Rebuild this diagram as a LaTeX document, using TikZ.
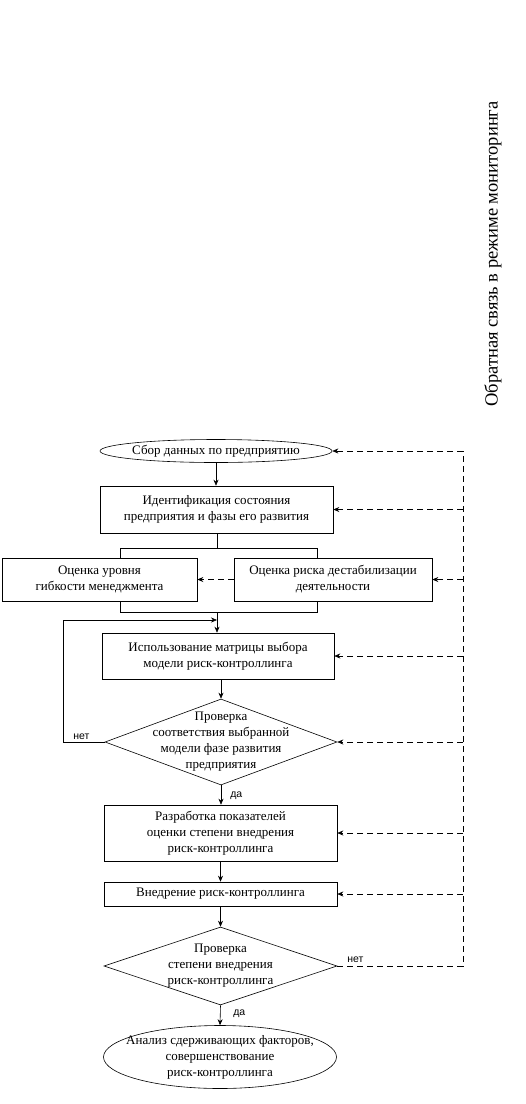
\documentclass[tikz,border=0pt]{standalone}
\usepackage{fontspec}
\setmainfont{Liberation Serif}
\newfontfamily\lblfont{Liberation Sans}
\usetikzlibrary{shapes.geometric,arrows.meta}
\begin{document}
\begin{tikzpicture}[x=1pt,y=-1pt,
  every node/.style={font=\fontsize{13}{16}\selectfont},
  blk/.style={draw,rectangle,inner sep=0pt,align=center},
  ell/.style={draw,ellipse,inner sep=0pt,align=center},
  dia/.style={draw,diamond,inner sep=0pt},
  lbl/.style={font=\lblfont\fontsize{10.5}{12}\selectfont,inner sep=0pt},
  arr/.style={-{Stealth[length=6pt,width=5pt]}},
  fb/.style={dashed,dash pattern=on 6pt off 4pt,-{Stealth[length=6pt,width=5pt]}},
  line width=0.6pt]
\useasboundingbox (0,0) rectangle (526,1104);

\node[ell,minimum width=232,minimum height=23] (e1) at (216,451) {};
\node at (e1.center) {Сбор данных по предприятию};
\node[blk,minimum width=233,minimum height=47] (b2) at (216.5,509.5) {Идентификация состояния\\предприятия и фазы его развития};
\node[blk,minimum width=195,minimum height=43] (b3l) at (99.5,579.5) {Оценка уровня\\гибкости менеджмента};
\node[blk,minimum width=198,minimum height=43] (b3r) at (333,579.5) {Оценка риска дестабилизации\\деятельности};
\node[blk,minimum width=232,minimum height=46] (b4) at (218,656) {Использование матрицы выбора\\модели риск-контроллинга};
\node[dia,minimum width=232,minimum height=86] (d1) at (221,742) {};
\node[align=center] at (d1.center) {Проверка\\соответствия выбранной\\модели фазе развития\\предприятия};
\node[blk,minimum width=233,minimum height=56] (b5) at (220.5,833) {Разработка показателей\\оценки степени внедрения\\риск-контроллинга};
\node[blk,minimum width=233,minimum height=24] (b6) at (220.5,894) {Внедрение риск-контроллинга};
\node[dia,minimum width=233,minimum height=78] (d2) at (220.5,966) {};
\node[align=center] at (d2.center) {Проверка\\степени внедрения\\риск-контроллинга};
\node[ell,minimum width=233,minimum height=63] (e2) at (220,1057) {};
\node[align=center] at (e2.center) {Анализ сдерживающих факторов,\\совершенствование\\риск-контроллинга};

\node[rotate=90,font=\fontsize{18.5}{22}\selectfont] (fbt) at (493,254) {Обратная связь в режиме мониторинга};

% main flow
\draw[arr] (e1.south) -- (e1.south |- b2.north);
\coordinate (s1) at (217,548);
\draw (b2.south -| s1) -- (s1);
\draw (120,548) -- (317,548);
\draw (120,548) -- (120,558);
\draw (317,548) -- (317,558);
\draw[fb] (b3r.west) -- (b3l.east);
\draw (120,601) -- (120,612) -- (317,612) -- (317,601);
\coordinate (s2) at (217,612);
\draw[arr] (s2) -- (s2 |- b4.north);
\draw[arr] (b4.south -| d1.north) -- (d1.north);
% no loop
\coordinate (n1) at (63,742);
\coordinate (n2) at (63,620);
\coordinate (n3) at (217,620);
\draw[arr] (d1.west) -- (n1) -- (n2) -- (n3);
\node[lbl,anchor=south west] at (73,740) {нет};
% yes
\draw[arr] (d1.south) -- (d1.south |- b5.north);
\node[lbl,anchor=south west] at (230,800) {да};
\draw[arr] (b5.south) -- (b6.north);
\draw[arr] (b6.south) -- (d2.north);
\draw[arr] (d2.south) -- (e2.north);
\node[lbl,anchor=south west] at (233,1018) {да};
% feedback
\coordinate (r0) at (463,966);
\coordinate (rt) at (463,451);
\draw[dashed,dash pattern=on 6pt off 4pt] (d2.east) -- (r0) -- (rt);
\node[lbl,anchor=south west] at (347,963) {нет};
\draw[fb] (rt) -- (e1.east);
\draw[fb] (rt |- b2.east) -- (b2.east);
\draw[fb] (rt |- b3r.east) -- (b3r.east);
\draw[fb] (rt |- b4.east) -- (b4.east);
\draw[fb] (rt |- d1.east) -- (d1.east);
\draw[fb] (rt |- b5.east) -- (b5.east);
\draw[fb] (rt |- b6.east) -- (b6.east);
\end{tikzpicture}
\end{document}
